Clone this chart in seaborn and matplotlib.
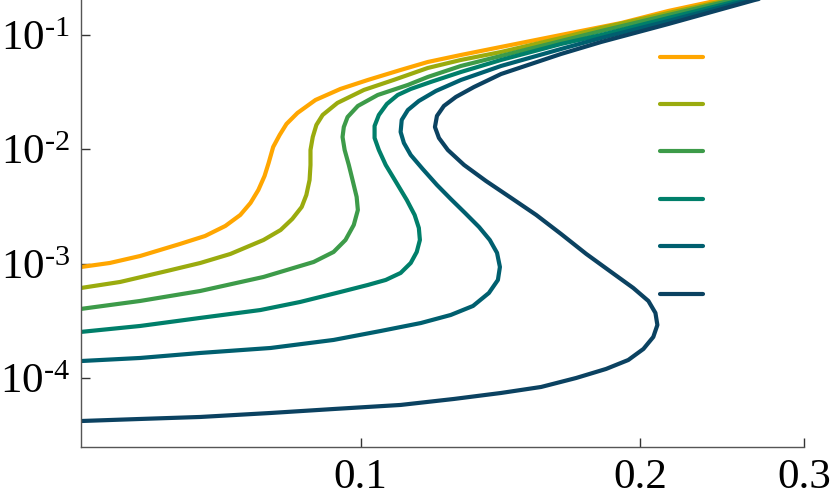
import matplotlib
matplotlib.use("Agg")
import matplotlib.pyplot as plt
import pandas as pd
import seaborn as sns
from matplotlib.ticker import FixedLocator, FixedFormatter, NullLocator

# curve values (log-log axes)
orange_x = [0.0500, 0.0537, 0.0579, 0.0639, 0.0680, 0.0715, 0.0742, 0.0761, 0.0776, 0.0788,
            0.0796, 0.0805, 0.0818, 0.0832, 0.0855, 0.0894, 0.0951, 0.1018, 0.1104, 0.1181,
            0.1282, 0.1416, 0.1643, 0.1908, 0.2144, 0.2434, 0.260]
orange_y = [9.41e-4, 1.02e-3, 1.174e-3, 1.495e-3, 1.755e-3, 2.147e-3, 2.679e-3, 3.41e-3, 4.429e-3, 5.869e-3,
            7.623e-3, 1.051e-2, 1.338e-2, 1.67e-2, 2.084e-2, 2.705e-2, 3.376e-2, 4.046e-2, 4.946e-2, 5.808e-2,
            6.688e-2, 7.86e-2, 0.100, 0.1273, 0.1621, 0.2021, 0.23]

olive_x = [0.0500, 0.0551, 0.0619, 0.0672, 0.0724, 0.0786, 0.0820, 0.0844, 0.0864, 0.0874,
           0.0881, 0.0883, 0.0883, 0.0888, 0.0896, 0.0910, 0.0944, 0.1008, 0.1085, 0.1181,
           0.1282, 0.1416, 0.1643, 0.1815, 0.2144, 0.2488, 0.266]
olive_y = [6.17e-4, 6.965e-4, 8.69e-4, 1.02e-3, 1.223e-3, 1.62e-3, 1.98e-3, 2.472e-3, 3.147e-3, 4.005e-3,
           5.41e-3, 7.322e-3, 9.90e-3, 1.285e-2, 1.637e-2, 2.001e-2, 2.55e-2, 3.31e-2, 4.046e-2, 5.15e-2,
           6.05e-2, 7.10e-2, 9.41e-2, 0.1151, 0.1556, 0.2021, 0.23]

green_x = [0.0500, 0.0579, 0.0672, 0.0786, 0.0890, 0.0935, 0.0963, 0.0983, 0.0993, 0.0990,
           0.0980, 0.0971, 0.0961, 0.0956, 0.0959, 0.0968, 0.0993, 0.1043, 0.1124, 0.1181,
           0.1282, 0.1416, 0.1643, 0.1815, 0.2144, 0.2519, 0.270]
green_y = [4.05e-4, 4.752e-4, 5.809e-4, 7.70e-4, 1.041e-3, 1.273e-3, 1.62e-3, 2.191e-3, 2.96e-3, 3.85e-3,
           5.41e-3, 7.32e-3, 9.90e-3, 1.285e-2, 1.57e-2, 1.92e-2, 2.399e-2, 2.99e-2, 3.66e-2, 4.297e-2,
           5.362e-2, 6.56e-2, 8.86e-2, 0.1083, 0.1495, 0.2021, 0.23]

teal_x = [0.0500, 0.0579, 0.0672, 0.0780, 0.0861, 0.0951, 0.1018, 0.1064, 0.1104, 0.1132,
          0.1149, 0.1158, 0.1155, 0.1143, 0.1121, 0.1093, 0.1064, 0.1046, 0.1035, 0.1035,
          0.1046, 0.1067, 0.1096, 0.1132, 0.1190, 0.1282, 0.1416, 0.1643, 0.1815, 0.2144,
          0.2570, 0.275]
teal_y = [2.55e-4, 2.874e-4, 3.38e-4, 3.96e-4, 4.66e-4, 5.694e-4, 6.556e-4, 7.25e-4, 8.346e-4, 1.02e-3,
          1.273e-3, 1.62e-3, 2.063e-3, 2.679e-3, 3.62e-3, 5.098e-3, 7.32e-3, 9.90e-3, 1.26e-2, 1.604e-2,
          2.00e-2, 2.496e-2, 2.99e-2, 3.376e-2, 3.89e-2, 4.75e-2, 6.05e-2, 8.34e-2, 0.100, 0.1408,
          0.2021, 0.23]

petrol_x = [0.0500, 0.0579, 0.0672, 0.0800, 0.0935, 0.1051, 0.1161, 0.1250, 0.1321, 0.1374,
            0.1405, 0.1412, 0.1402, 0.1377, 0.1341, 0.1295, 0.1250, 0.1208, 0.1166, 0.1132,
            0.1113, 0.1104, 0.1107, 0.1124, 0.1155, 0.1205, 0.1282, 0.1416, 0.1643, 0.1815,
            0.2144, 0.2615, 0.280]
petrol_y = [1.42e-4, 1.51e-4, 1.67e-4, 1.846e-4, 2.17e-4, 2.599e-4, 3.05e-4, 3.585e-4, 4.298e-4, 5.581e-4,
            7.25e-4, 9.41e-4, 1.25e-3, 1.62e-3, 2.10e-3, 2.79e-3, 3.696e-3, 4.898e-3, 6.756e-3, 8.95e-3,
            1.14e-2, 1.422e-2, 1.81e-2, 2.21e-2, 2.652e-2, 3.243e-2, 4.046e-2, 5.362e-2, 7.544e-2, 9.41e-2,
            0.1326, 0.2021, 0.23]

navy_x = [0.0500, 0.0579, 0.0672, 0.0800, 0.0935, 0.1104, 0.1260, 0.1416, 0.1564, 0.1706,
          0.1837, 0.1941, 0.2015, 0.2065, 0.2086, 0.2076, 0.2040, 0.1965, 0.1860, 0.1749,
          0.1643, 0.1545, 0.1452, 0.1364, 0.1292, 0.1241, 0.1214, 0.1202, 0.1208, 0.1229,
          0.1266, 0.1324, 0.1416, 0.1643, 0.1815, 0.2144, 0.2655, 0.284]
navy_y = [4.25e-5, 4.428e-5, 4.61e-5, 4.995e-5, 5.41e-5, 5.87e-5, 6.622e-5, 7.47e-5, 8.429e-5, 1.01e-4,
          1.211e-4, 1.45e-4, 1.81e-4, 2.304e-4, 2.93e-4, 3.733e-4, 4.752e-4, 6.17e-4, 8.513e-4, 1.223e-3,
          1.828e-3, 2.679e-3, 3.771e-3, 5.307e-3, 7.32e-3, 9.90e-3, 1.26e-2, 1.57e-2, 1.962e-2, 2.399e-2,
          2.874e-2, 3.51e-2, 4.56e-2, 6.825e-2, 8.69e-2, 0.1248, 0.2021, 0.23]

CURVES = ["c1", "c2", "c3", "c4", "c5", "c6"]
COLORS = ["#ffa600", "#9aab0e", "#3d9b49", "#007f6a", "#005f6f", "#0b4261"]
X_TICKS = [0.1, 0.2, 0.3]
X_LABELS = ["0.1", "0.2", "0.3"]
Y_TICKS = [1e-4, 1e-3, 1e-2, 1e-1]
Y_LABELS = [r"$\mathregular{10^{\text{-}4}}$", r"$\mathregular{10^{\text{-}3}}$",
            r"$\mathregular{10^{\text{-}2}}$", r"$\mathregular{10^{\text{-}1}}$"]


def build_frame() -> pd.DataFrame:
    parts = []
    series = [(orange_x, orange_y), (olive_x, olive_y), (green_x, green_y),
              (teal_x, teal_y), (petrol_x, petrol_y), (navy_x, navy_y)]
    for name, (xs, ys) in zip(CURVES, series):
        parts.append(pd.DataFrame({"x": xs, "y": ys, "curve": name}))
    return pd.concat(parts, ignore_index=True)


sns.set_theme(style="ticks")
plt.rcParams["font.family"] = ["Liberation Serif", "DejaVu Serif"]
plt.rcParams["mathtext.fontset"] = "custom"
plt.rcParams["mathtext.rm"] = "Liberation Serif"

df = build_frame()
fig = plt.figure(figsize=(8.3, 4.96), dpi=100)
ax = fig.add_axes([81 / 830, 49 / 496, 723 / 830, 447 / 496])

sns.lineplot(data=df, x="x", y="y", hue="curve", palette=COLORS, sort=False,
             estimator=None, linewidth=3, legend=False, ax=ax)
for line in ax.get_lines():
    line.set_solid_joinstyle("round")

ax.set_xscale("log")
ax.set_yscale("log")
ax.set_xlim(0.05, 0.3)
ax.set_ylim(2.52e-5, 0.202)
ax.xaxis.set_major_locator(FixedLocator(X_TICKS))
ax.xaxis.set_major_formatter(FixedFormatter(X_LABELS))
ax.xaxis.set_minor_locator(NullLocator())
ax.yaxis.set_major_locator(FixedLocator(Y_TICKS))
ax.yaxis.set_major_formatter(FixedFormatter(Y_LABELS))
ax.yaxis.set_minor_locator(NullLocator())
ax.set_xlabel("")
ax.set_ylabel("")

sns.despine(ax=ax)
for side in ["left", "bottom"]:
    ax.spines[side].set_color("#555555")
    ax.spines[side].set_linewidth(1.0)
ax.tick_params(axis="both", direction="in", length=6.5, width=1.0, color="#333333",
               labelsize=31, labelcolor="black")
ax.tick_params(axis="x", pad=8)
ax.tick_params(axis="y", pad=8)

ax.legend(handles=ax.get_lines()[:6], labels=[""] * 6, loc="upper left",
          bbox_to_anchor=(0.801, 0.895), frameon=False, fontsize=20,
          handlelength=1.55, handletextpad=0.0, labelspacing=0.79,
          borderpad=0, borderaxespad=0)

fig.savefig("out.png", dpi=100)
